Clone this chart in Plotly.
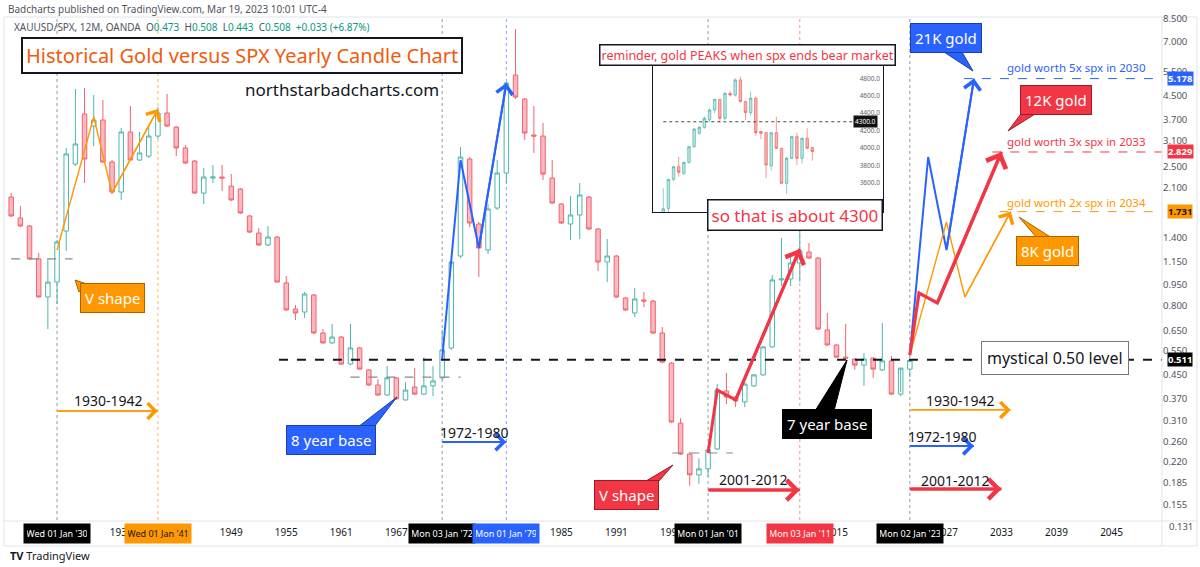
import math
import plotly.graph_objects as go

# ---------------- data: yearly XAUUSD/SPX candles ----------------
years = list(range(1925, 2024))
open_ = [
    1.952, 1.643, 1.538, 1.172, 0.857,
    0.969, 1.475, 2.562, 3.868, 3.504, 3.681, 2.605, 2.034, 3.335, 2.648,
    2.736, 3.226, 3.900, 3.475, 2.924, 2.626, 2.017, 2.283, 2.302, 2.137,
    2.085, 1.670, 1.451, 1.315, 1.404, 0.962, 0.776, 0.757, 0.871, 0.637,
    0.587, 0.616, 0.493, 0.563, 0.470, 0.415, 0.382, 0.440, 0.367, 0.408,
    0.385, 0.412, 0.440, 0.563, 1.201, 2.670, 1.563, 1.262, 1.783, 2.379,
    5.334, 4.377, 3.253, 3.226, 2.283, 1.843, 1.563, 1.684, 1.952, 1.500,
    1.143, 1.201, 0.850, 0.751, 0.836, 0.829, 0.637, 0.497, 0.303, 0.235,
    0.198, 0.208, 0.245, 0.395, 0.376, 0.361, 0.412, 0.451, 0.568, 0.986,
    0.994, 1.134, 1.241, 1.181, 0.653, 0.577, 0.522, 0.514, 0.489, 0.518,
    0.470, 0.506, 0.385, 0.473]
high_ = [
    2.017, 1.813, 1.550, 1.231, 1.172,
    1.370, 2.924, 4.753, 4.792, 4.523, 4.341, 2.648, 3.447, 4.131, 3.335,
    3.504, 4.098, 4.561, 3.504, 2.997, 2.648, 2.479, 2.542, 2.542, 2.360,
    2.102, 1.684, 1.512, 1.538, 1.416, 1.019, 0.802, 0.893, 0.878, 0.658,
    0.686, 0.621, 0.686, 0.568, 0.473, 0.436, 0.485, 0.443, 0.425, 0.477,
    0.522, 0.485, 0.653, 1.162, 2.948, 2.714, 1.589, 1.843, 2.648, 5.035,
    7.790, 4.413, 4.131, 3.591, 2.648, 1.858, 1.968, 2.191, 1.968, 1.512,
    1.381, 1.211, 0.857, 0.923, 0.893, 0.836, 0.669, 0.501, 0.316, 0.239,
    0.227, 0.243, 0.418, 0.458, 0.379, 0.425, 0.454, 0.572, 1.027, 1.393,
    1.211, 1.525, 1.336, 1.191, 0.751, 0.582, 0.686, 0.518, 0.540, 0.522,
    0.692, 0.527, 0.392, 0.508]
low_ = [
    1.656, 1.525, 1.162, 0.850, 0.658,
    0.809, 1.252, 2.521, 2.191, 2.972, 2.584, 2.001, 1.905, 2.626, 2.626,
    2.692, 3.149, 3.475, 2.736, 2.562, 2.001, 1.843, 2.191, 2.051, 1.889,
    1.698, 1.451, 1.304, 1.304, 0.962, 0.764, 0.709, 0.721, 0.631, 0.582,
    0.582, 0.489, 0.489, 0.470, 0.412, 0.379, 0.379, 0.367, 0.364, 0.382,
    0.382, 0.379, 0.432, 0.554, 1.181, 1.525, 1.010, 1.221, 1.754, 2.191,
    4.377, 3.123, 2.806, 2.246, 1.843, 1.563, 1.370, 1.381, 1.488, 1.061,
    0.969, 0.850, 0.764, 0.727, 0.789, 0.631, 0.497, 0.303, 0.233, 0.181,
    0.184, 0.195, 0.243, 0.355, 0.346, 0.346, 0.408, 0.448, 0.563, 0.938,
    0.938, 0.969, 1.172, 0.653, 0.572, 0.518, 0.510, 0.470, 0.412, 0.440,
    0.466, 0.382, 0.379, 0.443]
close_ = [
    1.670, 1.538, 1.172, 0.857, 0.969,
    1.348, 2.783, 3.022, 2.670, 3.681, 2.605, 2.034, 3.335, 2.648, 2.806,
    3.226, 3.900, 3.504, 2.924, 2.584, 2.017, 2.302, 2.302, 2.283, 1.905,
    1.712, 1.463, 1.315, 1.404, 0.969, 0.770, 0.751, 0.878, 0.637, 0.587,
    0.616, 0.493, 0.563, 0.473, 0.415, 0.382, 0.440, 0.370, 0.398, 0.385,
    0.412, 0.429, 0.554, 1.143, 2.714, 1.576, 1.283, 1.769, 2.379, 4.994,
    4.449, 3.307, 3.226, 2.360, 1.858, 1.576, 1.684, 1.985, 1.500, 1.143,
    1.201, 0.857, 0.770, 0.843, 0.829, 0.637, 0.501, 0.306, 0.235, 0.198,
    0.208, 0.243, 0.398, 0.376, 0.364, 0.418, 0.451, 0.568, 0.986, 0.994,
    1.134, 1.252, 1.181, 0.658, 0.577, 0.522, 0.518, 0.489, 0.514, 0.473,
    0.506, 0.385, 0.477, 0.508]

# inset: SPX monthly candles (pasted image in the original)
inset_idx = list(range(1, 31))
inset_open = [3250, 3305, 3638, 3784, 3707, 3834, 4014, 4170, 4236, 4321, 4436, 4558, 4340, 4627, 4608,
              4781, 4532, 4405, 4570, 4187, 4175, 3792, 4175, 3995, 3592, 3880, 4129, 3880, 4110, 4003]
inset_high = [3535, 3640, 3790, 3899, 3840, 4020, 4225, 4250, 4360, 4450, 4560, 4560, 4640, 4650, 4800,
              4819, 4540, 4647, 4590, 4190, 4180, 4180, 4359, 4000, 3900, 4140, 4175, 4120, 4225, 4010]
inset_low = [3200, 3250, 3620, 3669, 3690, 3820, 4000, 4150, 4220, 4300, 4400, 4290, 4320, 4590, 4590,
             4520, 4320, 4370, 4140, 4100, 3650, 3740, 3990, 3590, 3470, 3870, 3803, 3820, 3990, 3853]
inset_close = [3300, 3638, 3784, 3719, 3834, 4014, 4217, 4236, 4340, 4436, 4558, 4340, 4627, 4608, 4781,
               4532, 4405, 4570, 4175, 4167, 3803, 4175, 3995, 3592, 3880, 4129, 3880, 4110, 3995, 3957]
inset_ticks = [3600, 3800, 4000, 4200, 4400, 4600, 4800]
inset_level = 4300

# axis ticks
y_ticks = [0.155, 0.185, 0.220, 0.260, 0.310, 0.370, 0.450, 0.550, 0.650, 0.800, 0.950,
           1.150, 1.400, 2.100, 2.500, 3.100, 3.700, 4.500, 5.500, 7.000, 8.500]
y_bottom_tick = 0.131
x_ticks = [1925, 1937, 1949, 1955, 1961, 1967, 1985, 1991, 1997, 2015, 2027, 2033, 2039, 2045]

# drawings (year, value)
orange_hist_x = [1930, 1934, 1936, 1941]
orange_hist_y = [1.262, 3.774, 2.018, 4.031]
blue_hist_x = [1972, 1974, 1976, 1979]
blue_hist_y = [0.514, 2.648, 1.283, 4.994]
red_hist_x = [2001, 2002, 2004, 2011]
red_hist_y = [0.237, 0.398, 0.367, 1.273]
blue_proj_x = [2023, 2025, 2027, 2030]
blue_proj_y = [0.531, 2.715, 1.262, 5.178]
orange_proj_x = [2023, 2027, 2029, 2034]
orange_proj_y = [0.531, 1.589, 0.857, 1.731]
red_proj_x = [2023, 2024, 2026, 2033]
red_proj_y = [0.531, 0.885, 0.816, 2.829]

range_start = [1930, 1972, 2001, 2023, 2023, 2023]
range_end = [1941, 1979, 2011, 2034, 2030, 2033]
range_level = [0.335, 0.2595, 0.1748, 0.338, 0.251, 0.1762]
range_label = ["1930-1942", "1972-1980", "2001-2012", "1930-1942", "1972-1980", "2001-2012"]

mystical_level = 0.511
target_levels = [5.178, 2.829, 1.731]
target_start = [2028.9, 2032.0, 2032.8]
target_text = ["gold worth 5x spx in 2030", "gold worth 3x spx in 2033", "gold worth 2x spx in 2034"]

event_years = [1930, 1941, 1972, 1979, 2001, 2011, 2023]
event_labels = ["Wed 01 Jan '30", "Wed 01 Jan '41", "Mon 03 Jan '72", "Mon 01 Jan '79",
                "Mon 01 Jan '01", "Mon 03 Jan '11", "Mon 02 Jan '23"]

# ---------------- styling / layout helpers ----------------
ORANGE = "#FF9800"
BLUE = "#2962FF"
RED = "#F23645"
BLACK = "#131722"
FONT = "Noto Sans"
PW, PB, PH = 1162.0, 520.0, 503.0
X0, X1 = 1923.78, 2050.5
Y0, Y1 = 0.13648, 8.601


def P(px, py):
    return px / PW, (PB - py) / PH


fig = go.Figure()

fig.add_trace(go.Candlestick(
    x=years, open=open_, high=high_, low=low_, close=close_,
    increasing=dict(line=dict(color="#4DB6AC", width=1), fillcolor="#FFFFFF"),
    decreasing=dict(line=dict(color="#F06470", width=1), fillcolor="#F9B9BF"),
    whiskerwidth=0, hoverinfo="skip", xaxis="x", yaxis="y"))

fig.add_trace(go.Candlestick(
    x=inset_idx, open=inset_open, high=inset_high, low=inset_low, close=inset_close,
    increasing=dict(line=dict(color="rgba(38,166,154,0.55)", width=1), fillcolor="rgba(38,166,154,0.30)"),
    decreasing=dict(line=dict(color="rgba(239,83,80,0.6)", width=1), fillcolor="rgba(239,83,80,0.45)"),
    whiskerwidth=0, hoverinfo="skip", xaxis="x2", yaxis="y2"))

fig.add_trace(go.Scatter(x=[inset_idx[0], 38.5], y=[inset_level, inset_level], mode="lines",
                         line=dict(color="#444", width=1, dash="dot"), xaxis="x2", yaxis="y2",
                         hoverinfo="skip"))


def line(xs, ys, color, width, dash=None):
    fig.add_trace(go.Scatter(x=xs, y=ys, mode="lines", hoverinfo="skip",
                             line=dict(color=color, width=width, dash=dash)))


# base / level dashed lines
line([1954.2, X1], [mystical_level, mystical_level], BLACK, 2, "dash")
line([1925.0, 1931.7], [1.172, 1.172], "#888", 1.2, "dash")
line([1962.0, 1974.0], [0.443, 0.443], "#888", 1.2, "dash")
line([1997.1, 2003.7], [0.237, 0.237], "#888", 1.2, "dash")
for lv, st, c in zip(target_levels, target_start, [BLUE, RED, ORANGE]):
    line([st, X1], [lv, lv], c, 1, "dash")

annotations = []


def arrow(x0, y0, x1, y1, color, width, size):
    annotations.append(dict(x=x1, y=math.log10(y1), ax=x0, ay=math.log10(y0), xref="x", yref="y",
                            axref="x", ayref="y", showarrow=True, arrowhead=4, arrowsize=size,
                            arrowwidth=width, arrowcolor=color, text="", standoff=0))


for xs, ys, c, w, s in [(orange_hist_x, orange_hist_y, ORANGE, 1.4, 2.2),
                        (blue_hist_x, blue_hist_y, BLUE, 2, 1.6),
                        (red_hist_x, red_hist_y, RED, 3, 1.3),
                        (blue_proj_x, blue_proj_y, BLUE, 2, 1.6),
                        (orange_proj_x, orange_proj_y, ORANGE, 1.4, 2.2),
                        (red_proj_x, red_proj_y, RED, 3.2, 1.3)]:
    line(xs, ys, c, w)
    arrow(xs[-2], ys[-2], xs[-1], ys[-1], c, w, s)

range_colors = [ORANGE, BLUE, RED, ORANGE, BLUE, RED]
range_widths = [1.4, 2, 3, 1.4, 2, 3]
range_sizes = [2.2, 1.6, 1.3, 2.2, 1.6, 1.3]
for a, b, lv, c, w, s in zip(range_start, range_end, range_level, range_colors, range_widths, range_sizes):
    line([a, b], [lv, lv], c, w)
    arrow(a, lv, b, lv, c, w, s)


def text(px, py, t, size, color=BLACK, anchor="center", **kw):
    x, y = P(px, py)
    d = dict(x=x, y=y, xref="paper", yref="paper", text=t, showarrow=False, xanchor=anchor,
             yanchor="middle", font=dict(family=FONT, size=size, color=color))
    d.update(kw)
    annotations.append(d)


label_px = [(108, 400), (474, 432), (753, 479), (960, 400), (942, 436), (955, 480)]
for (px, py), t in zip(label_px, range_label):
    text(px, py, t, 14, BLACK)

text(6, 9, "Badcharts published on TradingView.com, Mar 19, 2023 10:01 UTC-4", 10, "#50535E", "left")
teal = "#089981"
legend = ("XAUUSD/SPX, 12M, OANDA  O<span style='color:%s'>0.473</span>  H<span style='color:%s'>0.508</span>"
          "  L<span style='color:%s'>0.443</span>  C<span style='color:%s'>0.508</span>"
          "  <span style='color:%s'>+0.033 (+6.87%%)</span>") % (teal, teal, teal, teal, teal)
text(12, 27, legend, 10, "#50535E", "left")
text(242, 56, "Historical Gold versus SPX Yearly Candle Chart", 20, "#EF5B0C",
     bgcolor="#FFFFFF", bordercolor=BLACK, borderwidth=2, borderpad=3)
text(342, 90, "northstarbadcharts.com", 17, BLACK)
text(747, 55, "reminder, gold PEAKS when spx ends bear market", 12.5, RED,
     bgcolor="#FFFFFF", bordercolor=BLACK, borderwidth=1.5, borderpad=1)
text(795, 215, "so that is about 4300", 17, RED,
     bgcolor="#FFFFFF", bordercolor=BLACK, borderwidth=1.5, borderpad=3)
text(1055, 358, "mystical 0.50 level", 16, BLACK,
     bgcolor="#FFFFFF", bordercolor="#777", borderwidth=1, borderpad=5)
for py, t, c in zip([68, 142, 202], target_text, [BLUE, RED, ORANGE]):
    text(1005, py, t, 11.5, c, "left")

callouts = [
    ((112, 298), "V shape", ORANGE, "#A86400", [(79, 292), (90, 285), (75, 280)]),
    ((331, 440), "8 year base", BLUE, "#1B3FA8", [(358, 427), (374, 427), (397, 397)]),
    ((626, 495), "V shape", RED, "#9E1B26", [(646, 481), (659, 481), (673, 465)]),
    ((827, 424), "7 year base", "#000000", "#000000", [(815, 411), (834, 411), (847, 360)]),
    ((946, 38), "21K gold", BLUE, "#1B3FA8", [(944, 52), (962, 52), (973, 71)]),
    ((1056, 100), "12K gold", RED, "#9E1B26", [(1021, 114), (1035, 114), (1008, 131)]),
    ((1047, 251), "8K gold", ORANGE, "#A86400", [(1037, 238), (1052, 238), (1019, 217)]),
]
shapes = []
for (px, py), t, bg, bd, tri in callouts:
    pts = [P(a, b) for a, b in tri]
    path = "M %f,%f L %f,%f L %f,%f Z" % (pts[0][0], pts[0][1], pts[1][0], pts[1][1], pts[2][0], pts[2][1])
    shapes.append(dict(type="path", path=path, xref="paper", yref="paper", fillcolor=bg,
                       line=dict(color=bd, width=1), layer="above"))
    text(px, py, t, 15, "#FFFFFF", bgcolor=bg, bordercolor=bd, borderwidth=1, borderpad=4)

# inset background
ix0, iy0 = P(653, 212)
ix1, iy1 = P(883, 64)
shapes.insert(0, dict(type="rect", xref="paper", yref="paper", x0=ix0, y0=iy0, x1=ix1, y1=iy1,
                      fillcolor="#FFF9DB", line=dict(color=BLACK, width=2), layer="below"))

# event vertical lines
ev_colors = ["#9598A1", "#FFB74D", "#9598A1", "#82A0FF", "#9598A1", "#F7939B", "#9598A1"]
for yr, c in zip(event_years, ev_colors):
    shapes.append(dict(type="line", xref="x", yref="paper", x0=yr, x1=yr, y0=0, y1=1,
                       line=dict(color=c, width=1, dash="dot"), layer="below"))

# frame
fx0, fy0 = P(4, 546)
fx1, fy1 = P(1197, 17)
shapes.append(dict(type="rect", xref="paper", yref="paper", x0=fx0, y0=fy0, x1=fx1, y1=fy1,
                   line=dict(color="#E0E3EB", width=1), layer="below"))
shapes.append(dict(type="line", xref="paper", yref="paper", x0=fx0, x1=fx1, y0=P(0, 521)[1],
                   y1=P(0, 521)[1], line=dict(color="#E0E3EB", width=1)))
shapes.append(dict(type="line", xref="paper", yref="paper", x0=1.0, x1=1.0, y0=fy0, y1=fy1,
                   line=dict(color="#E0E3EB", width=1)))

# axis badges
ev_bg = ["#000000", ORANGE, "#000000", BLUE, "#000000", RED, "#000000"]
ev_fg = ["#FFFFFF", BLACK, "#FFFFFF", "#FFFFFF", "#FFFFFF", "#FFFFFF", "#FFFFFF"]
for yr, t, bg, fg in zip(event_years, event_labels, ev_bg, ev_fg):
    annotations.append(dict(x=yr, y=P(0, 533)[1], xref="x", yref="paper", text=t, showarrow=False,
                            bgcolor=bg, font=dict(family=FONT, size=9, color=fg), borderpad=3,
                            width=60, xanchor="center", yanchor="middle"))
for lv, bg, fg in zip([5.178, 2.829, 1.731, mystical_level], [BLUE, RED, ORANGE, "#000000"],
                      ["#FFFFFF", "#FFFFFF", BLACK, "#FFFFFF"]):
    annotations.append(dict(x=P(1180, 0)[0], y=math.log10(lv), xref="paper", yref="y",
                            text="<b>%.3f</b>" % lv, showarrow=False, bgcolor=bg, borderpad=0,
                            xanchor="center", font=dict(family=FONT, size=9.5, color=fg)))
text(1181, 526, "%.3f" % y_bottom_tick, 9.5, "#50535E")
annotations.append(dict(x=40.4, y=inset_level, xref="x2", yref="y2", text="4300.0", showarrow=False,
                        bgcolor="#111", borderpad=1, xanchor="center",
                        font=dict(family=FONT, size=6.5, color="#FFFFFF")))
text(8, 555, "<b>TV</b> TradingView", 11, BLACK, "left")

fig.update_layout(
    width=1200, height=567,
    margin=dict(l=0, r=38, t=17, b=47),
    paper_bgcolor="#FFFFFF", plot_bgcolor="#FFFFFF",
    showlegend=False,
    xaxis=dict(range=[X0, X1], showgrid=False, zeroline=False, rangeslider=dict(visible=False),
               tickvals=x_ticks, ticktext=[str(v) for v in x_ticks], ticks="", ticklabelstandoff=5,
               tickfont=dict(family=FONT, size=10, color=BLACK)),
    yaxis=dict(type="log", range=[math.log10(Y0), math.log10(Y1)], side="right", showgrid=False,
               zeroline=False, tickvals=y_ticks, ticktext=["%.3f" % v for v in y_ticks], ticks="",
               tickfont=dict(family=FONT, size=9.5, color="#50535E")),
    xaxis2=dict(domain=[ix0, ix1], range=[-1.0, 43.75], visible=False, anchor="y2",
                rangeslider=dict(visible=False)),
    yaxis2=dict(domain=[iy0, iy1], range=[3263, 4964], anchor="x2", side="right", showgrid=False,
                zeroline=False, tickvals=inset_ticks, ticktext=["%.1f" % v for v in inset_ticks],
                ticklabelposition="inside", ticks="", tickfont=dict(family=FONT, size=6.5, color="#666")),
    shapes=shapes,
    annotations=annotations,
)

fig.write_html("out.html", config={"displayModeBar": False},
               post_script="document.body.style.margin='0px';")
